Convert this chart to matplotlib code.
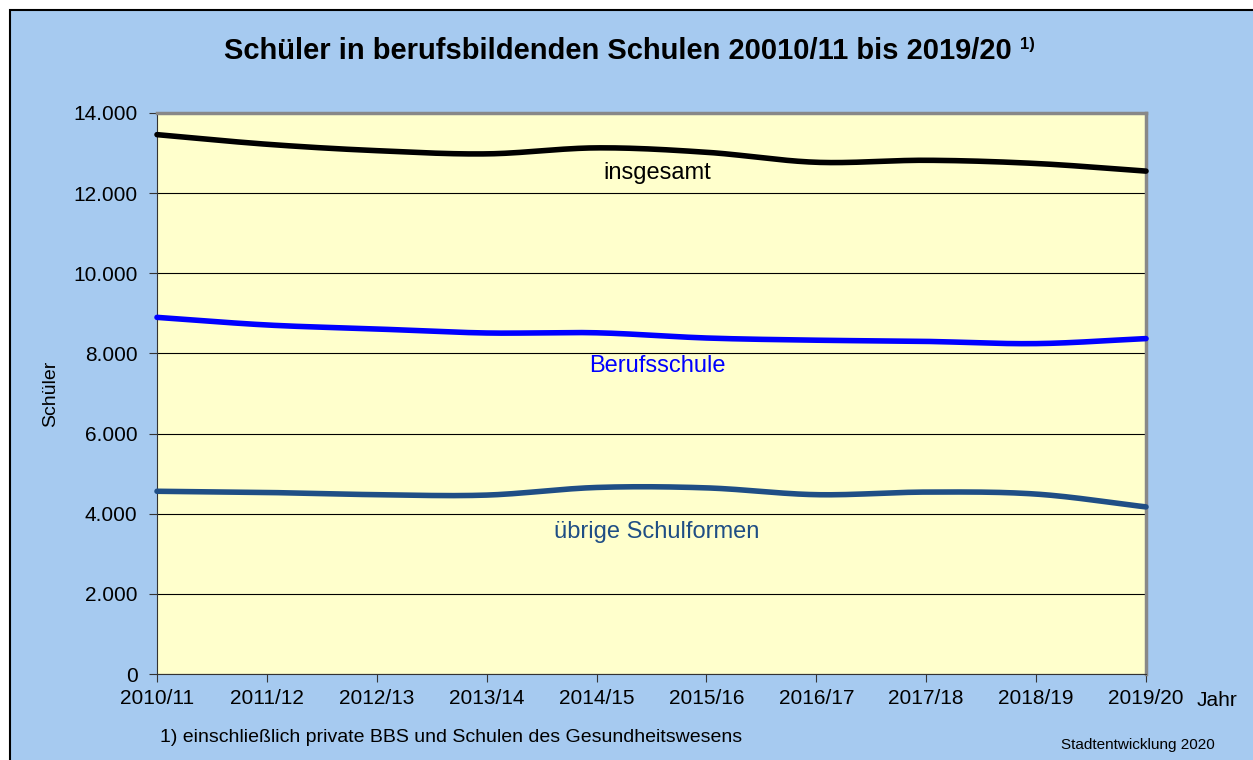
import numpy as np
import matplotlib.pyplot as plt
from matplotlib.patches import Rectangle

plt.rcParams['font.family'] = ['Liberation Sans', 'DejaVu Sans']

jahre = ['2010/11', '2011/12', '2012/13', '2013/14', '2014/15',
         '2015/16', '2016/17', '2017/18', '2018/19', '2019/20']
insgesamt = [13460, 13220, 13060, 12980, 13130, 13020, 12770, 12820, 12740, 12550]
berufsschule = [8900, 8710, 8610, 8510, 8515, 8385, 8330, 8300, 8245, 8370]
uebrige = [4560, 4530, 4475, 4465, 4655, 4645, 4475, 4540, 4490, 4170]


def smooth(y, n=30):
    # Catmull-Rom, aehnlich wie die geglaetteten Linien in Excel
    y = np.asarray(y, dtype=float)
    x = np.arange(len(y), dtype=float)
    p = np.concatenate([[2 * y[0] - y[1]], y, [2 * y[-1] - y[-2]]])
    xs, ys = [], []
    for i in range(len(y) - 1):
        p0, p1, p2, p3 = p[i], p[i + 1], p[i + 2], p[i + 3]
        t = np.linspace(0, 1, n, endpoint=False)
        yy = 0.5 * ((2 * p1) + (-p0 + p2) * t + (2 * p0 - 5 * p1 + 4 * p2 - p3) * t ** 2
                    + (-p0 + 3 * p1 - 3 * p2 + p3) * t ** 3)
        xs.append(x[i] + t)
        ys.append(yy)
    xs.append([x[-1]])
    ys.append([y[-1]])
    return np.concatenate(xs), np.concatenate(ys)


fig = plt.figure(figsize=(12.53, 7.6), dpi=100)
fig.patch.set_facecolor('white')
bg = Rectangle((10 / 1253, -0.1), 1.2, 1.1 - 10 / 760,
               transform=fig.transFigure, facecolor='#A6CAF0',
               edgecolor='black', linewidth=1.5, zorder=-5)
fig.patches.append(bg)

ax = fig.add_axes([157 / 1253, 1 - 674 / 760, (1146 - 157) / 1253, (674 - 113) / 760])
ax.set_zorder(2)
ax.set_facecolor('#FFFFCC')

x = np.arange(len(jahre))
for werte, farbe in [(insgesamt, 'black'), (berufsschule, '#0000FF'), (uebrige, '#1F4E85')]:
    xs, ys = smooth(werte)
    ax.plot(xs, ys, color=farbe, linewidth=4, solid_capstyle='round', zorder=3, clip_on=False)

ax.set_xlim(0, len(jahre) - 1)
ax.set_ylim(0, 14000)
ax.set_yticks(np.arange(0, 14001, 2000))
ax.set_yticklabels([f'{v:,}'.replace(',', '.') for v in range(0, 14001, 2000)])
ax.set_xticks(x)
ax.set_xticklabels(jahre)
ax.tick_params(axis='both', labelsize=15, length=6, color='#333333', direction='out')
ax.tick_params(axis='x', pad=5)
ax.tick_params(axis='y', pad=8)
ax.grid(axis='y', color='black', linewidth=0.8)
ax.set_axisbelow(True)
for s in ['left', 'bottom']:
    ax.spines[s].set_color('#333333')
for s in ['top', 'right']:
    ax.spines[s].set_color('#888888')
    ax.spines[s].set_linewidth(2.5)

ax.set_ylabel('Schüler', fontsize=14, labelpad=10)

ax.text(4.55, 12500, 'insgesamt', fontsize=17, ha='center', va='center', color='black')
ax.text(4.55, 7690, 'Berufsschule', fontsize=17, ha='center', va='center', color='#0000FF')
ax.text(4.55, 3545, 'übrige Schulformen', fontsize=17, ha='center', va='center', color='#1F4E85')

titel = fig.text(618 / 1253, 1 - 51 / 760, 'Schüler in berufsbildenden Schulen 20010/11 bis 2019/20',
                 fontsize=21, fontweight='bold', ha='center', va='center')
ax.annotate('1)', xy=(1, 0.75), xycoords=titel, xytext=(6, 0), textcoords='offset points',
            fontsize=12, fontweight='bold', ha='left', va='center', annotation_clip=False)
fig.text(1197 / 1253, 1 - 700 / 760, 'Jahr', fontsize=15, ha='left', va='center')
fig.text(160 / 1253, 1 - 737 / 760, '1) einschließlich private BBS und Schulen des Gesundheitswesens',
         fontsize=14, ha='left', va='center')
fig.text(1215 / 1253, 1 - 745 / 760, 'Stadtentwicklung 2020', fontsize=11, ha='right', va='center')

fig.savefig('out.png', dpi=100, facecolor=fig.get_facecolor())
